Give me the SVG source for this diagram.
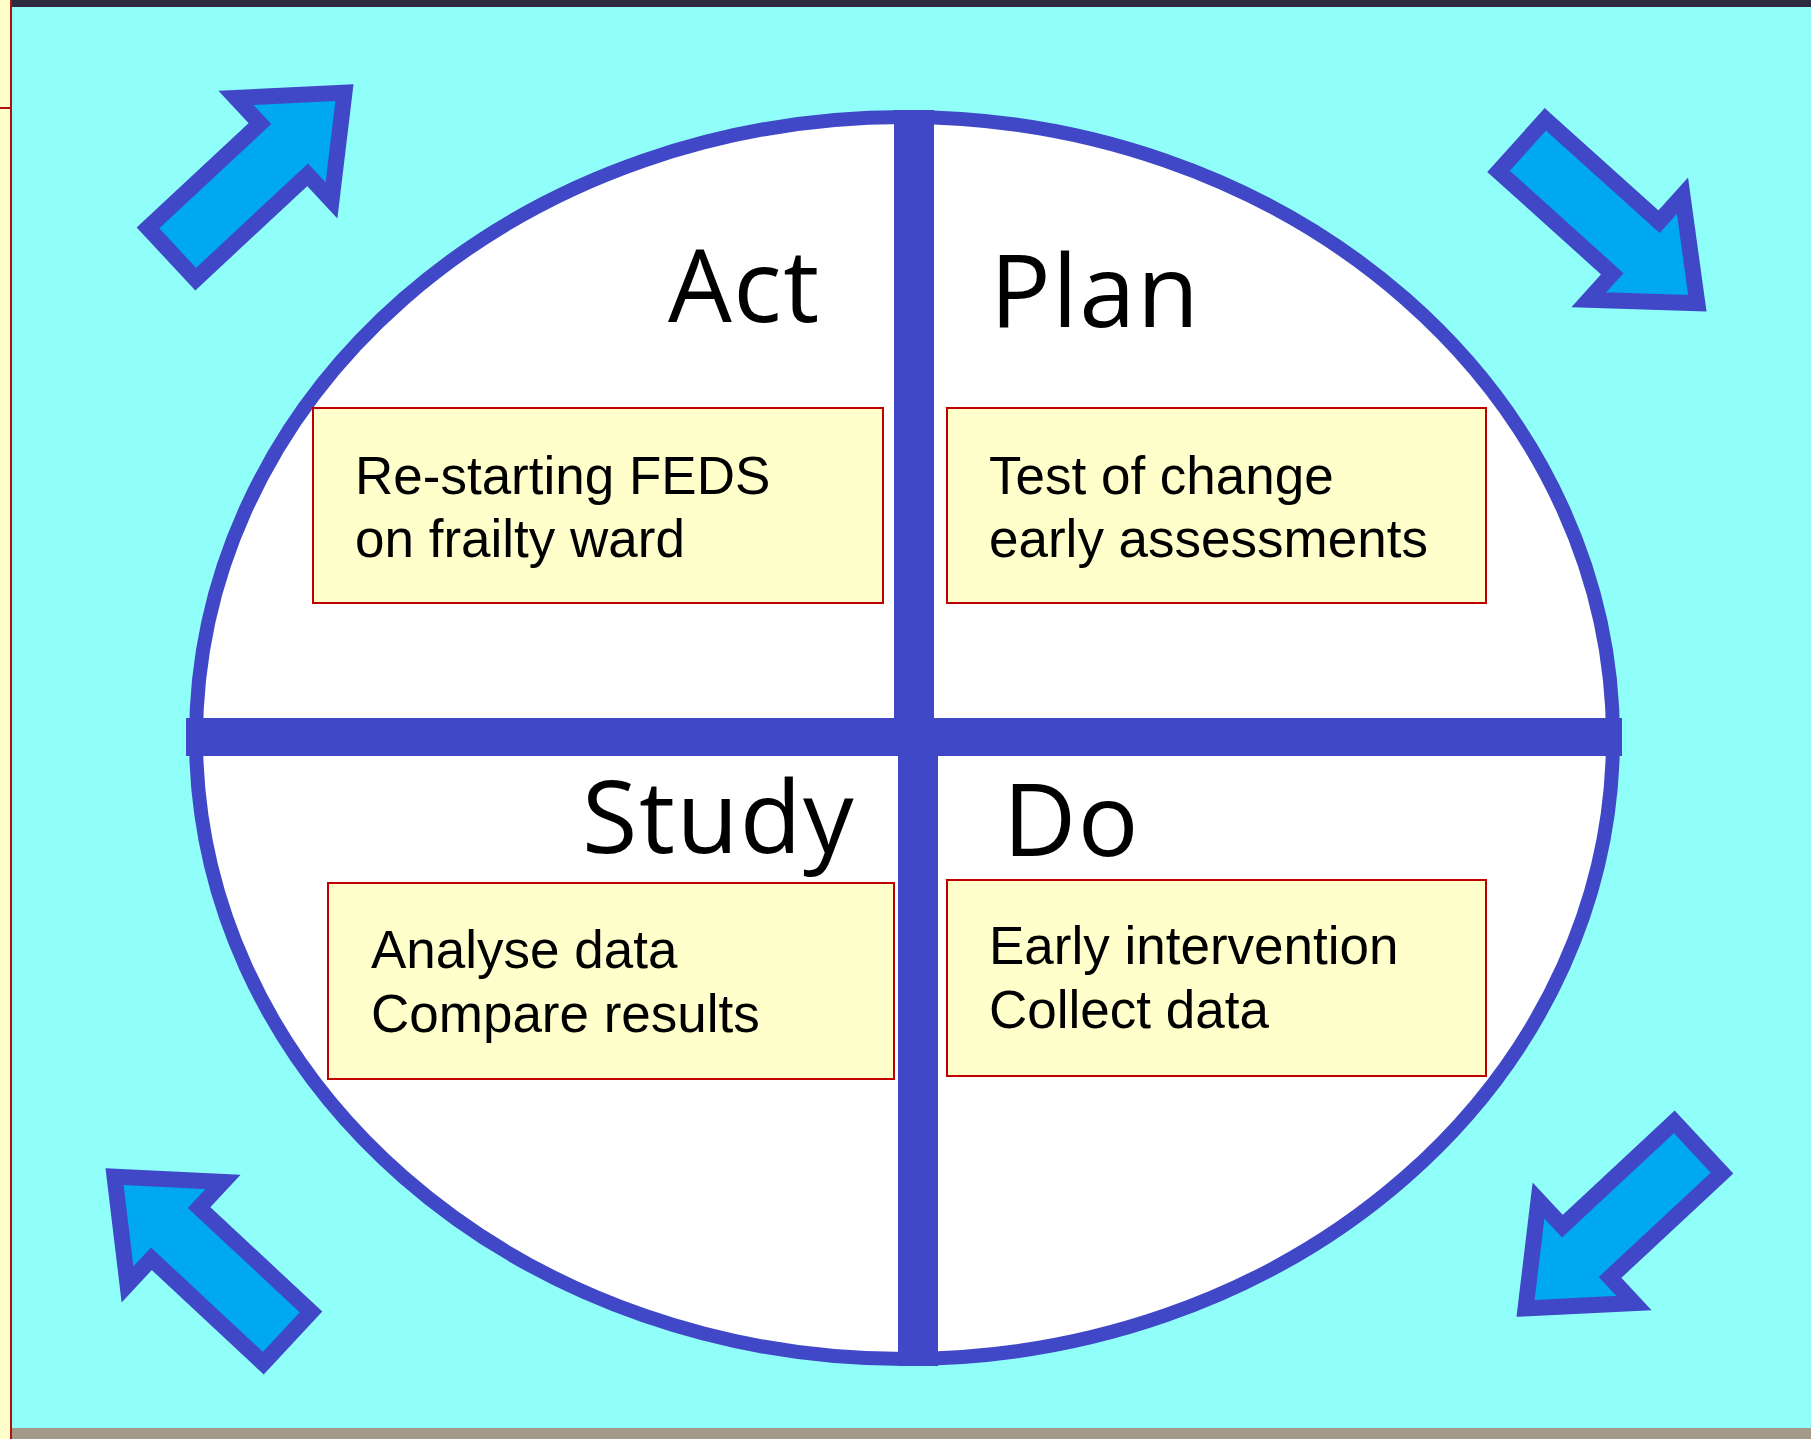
<svg xmlns="http://www.w3.org/2000/svg" xmlns:xlink="http://www.w3.org/1999/xlink" width="1811" height="1439" viewBox="0 0 1811 1439">
<style>
.title{font-family:"Open Sans","Noto Sans","DejaVu Sans",sans-serif;font-size:101px;font-weight:400;letter-spacing:1.5px;fill:#000}
.body{font-family:"Liberation Sans",Arial,sans-serif;font-size:53px;fill:#000}
.box{fill:#FFFFCC;stroke:#C00000;stroke-width:2}
.bar{fill:#4048C8}
.arrow{fill:#00A8F0;stroke:#4048C8;stroke-width:16;stroke-linejoin:miter}
</style>
<defs>
<polygon id="arr" class="arrow" points="8,-35 161,-35 161,-70 244,0 161,70 161,35 8,35"/>
</defs>
<g id="background">
<rect x="0" y="0" width="1811" height="1439" fill="#90FFF9"/>
<rect x="12" y="0" width="1799" height="7" fill="#2E2A40"/>
<rect x="12" y="1428" width="1799" height="11" fill="#A39A8A"/>
<rect x="0" y="0" width="11" height="1439" fill="#FFFFCC"/>
<rect x="10" y="0" width="2" height="1439" fill="#B01010"/>
<rect x="0" y="107" width="12" height="2" fill="#B01010"/>
</g>
<g id="cycle">
<ellipse cx="904.5" cy="738" rx="708.5" ry="621" fill="#FFFFFF" stroke="#4048C8" stroke-width="14"/>
<rect class="bar" x="186" y="718" width="1436" height="38"/>
<rect class="bar" x="894" y="110" width="40" height="628"/>
<rect class="bar" x="898" y="738" width="40" height="628"/>
</g>
<g id="act">
<text class="title" x="668" y="322">Act</text>
<rect class="box" x="313" y="408" width="570" height="195"/>
<text class="body" x="355" y="494">Re-starting FEDS</text>
<text class="body" x="355" y="557">on frailty ward</text>
</g>
<g id="plan">
<text class="title" x="990" y="327">Plan</text>
<rect class="box" x="947" y="408" width="539" height="195"/>
<text class="body" x="989" y="494">Test of change</text>
<text class="body" x="989" y="557">early assessments</text>
</g>
<g id="study">
<text class="title" x="582" y="853">Study</text>
<rect class="box" x="328" y="883" width="566" height="196"/>
<text class="body" x="371" y="968">Analyse data</text>
<text class="body" x="371" y="1032">Compare results</text>
</g>
<g id="do">
<text class="title" x="1003" y="856">Do</text>
<rect class="box" x="947" y="880" width="539" height="196"/>
<text class="body" x="989" y="964">Early intervention</text>
<text class="body" x="989" y="1028">Collect data</text>
</g>
<g id="connectors">
<use xlink:href="#arr" href="#arr" transform="translate(166,259) rotate(-43)"/>
<use xlink:href="#arr" href="#arr" transform="translate(1516,140) rotate(42)"/>
<use xlink:href="#arr" href="#arr" transform="translate(1704,1142) rotate(137)"/>
<use xlink:href="#arr" href="#arr" transform="translate(293,1343) rotate(-137)"/>
</g>
</svg>
